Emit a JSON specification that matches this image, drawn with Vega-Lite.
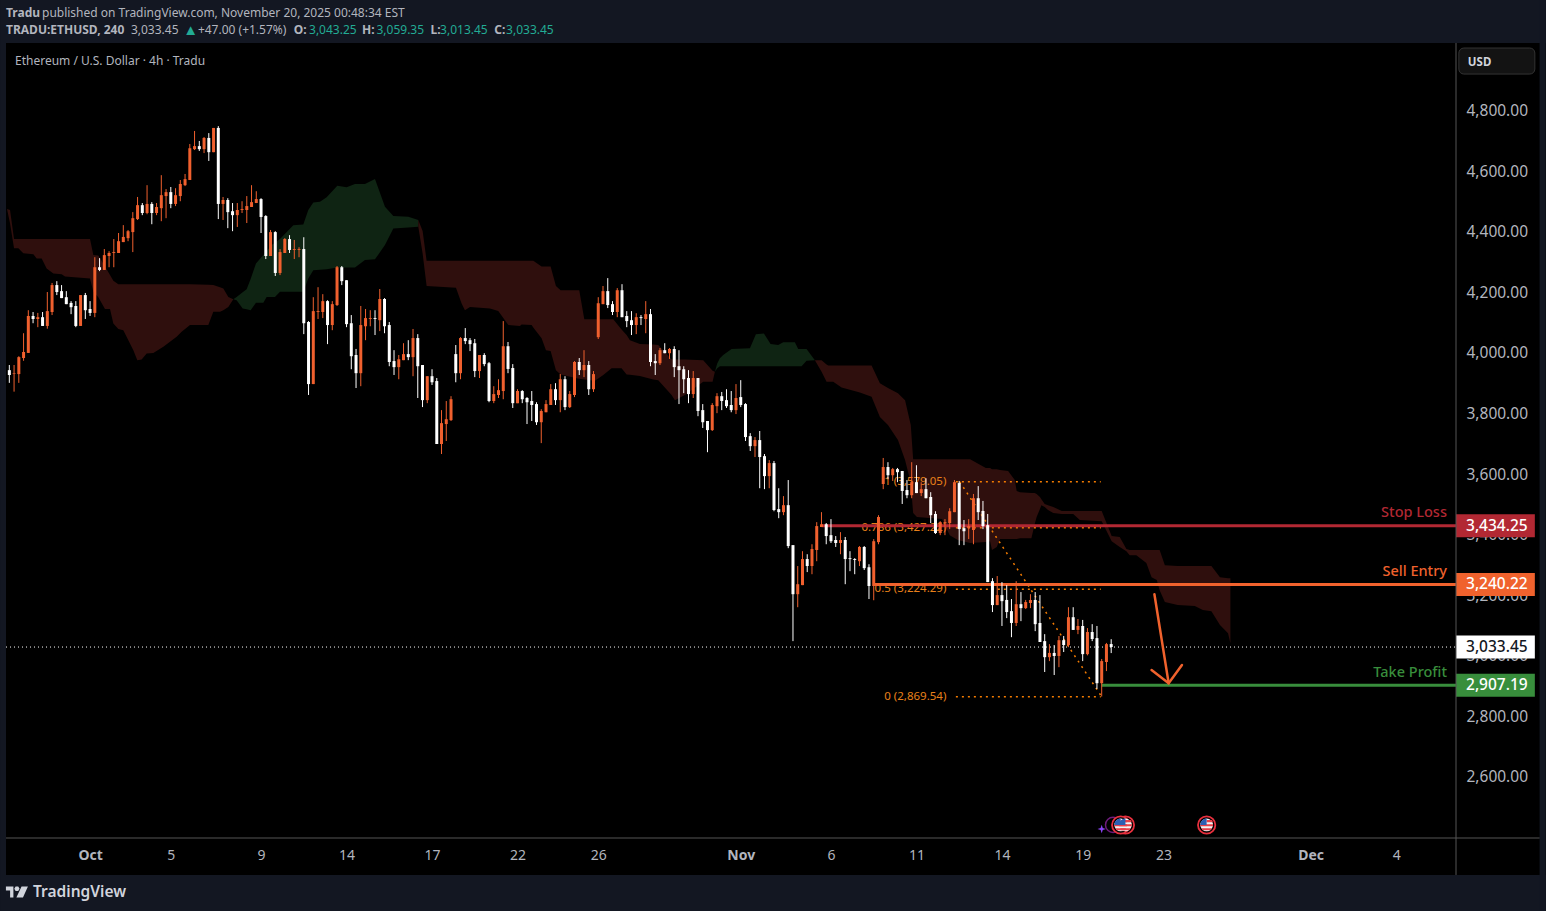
{
"$schema":"https://vega.github.io/schema/vega-lite/v6.json",
"autosize":{"type":"none"},
"padding":{"left":6,"top":43,"right":90,"bottom":73},
"width":1450,
"height":795,
"background":"#000000",
"config":{"font":"Noto Sans","view":{"stroke":null,"fill":"#000000"}},
"datasets":{
"candles":[
{"i":0,"o":3948,"h":3965,"l":3906,"c":3932},{"i":1,"o":3936,"h":3965,"l":3877,"c":3938},{"i":2,"o":3935,"h":3994,"l":3906,"c":3991},{"i":3,"o":3988,"h":4070,"l":3979,"c":4008},{"i":4,"o":4005,"h":4146,"l":4005,"c":4127},{"i":5,"o":4127,"h":4140,"l":4103,"c":4117},{"i":6,"o":4117,"h":4137,"l":4090,"c":4123},{"i":7,"o":4123,"h":4140,"l":4094,"c":4094},{"i":8,"o":4094,"h":4206,"l":4085,"c":4143},{"i":9,"o":4140,"h":4236,"l":4130,"c":4229},
{"i":10,"o":4229,"h":4242,"l":4196,"c":4206},{"i":11,"o":4209,"h":4229,"l":4186,"c":4186},{"i":12,"o":4189,"h":4209,"l":4166,"c":4166},{"i":13,"o":4170,"h":4176,"l":4133,"c":4156},{"i":14,"o":4160,"h":4176,"l":4090,"c":4094},{"i":15,"o":4094,"h":4196,"l":4094,"c":4196},{"i":16,"o":4196,"h":4203,"l":4117,"c":4146},{"i":17,"o":4150,"h":4176,"l":4127,"c":4137},{"i":18,"o":4137,"h":4321,"l":4123,"c":4288},{"i":19,"o":4288,"h":4318,"l":4275,"c":4279},
{"i":20,"o":4279,"h":4348,"l":4279,"c":4328},{"i":21,"o":4325,"h":4341,"l":4288,"c":4335},{"i":22,"o":4335,"h":4381,"l":4288,"c":4338},{"i":23,"o":4335,"h":4401,"l":4335,"c":4374},{"i":24,"o":4371,"h":4427,"l":4371,"c":4388},{"i":25,"o":4384,"h":4411,"l":4374,"c":4407},{"i":26,"o":4404,"h":4470,"l":4338,"c":4450},{"i":27,"o":4447,"h":4520,"l":4444,"c":4493},{"i":28,"o":4493,"h":4500,"l":4460,"c":4467},{"i":29,"o":4467,"h":4559,"l":4463,"c":4497},
{"i":30,"o":4497,"h":4503,"l":4430,"c":4467},{"i":31,"o":4467,"h":4500,"l":4460,"c":4487},{"i":32,"o":4483,"h":4592,"l":4440,"c":4526},{"i":33,"o":4523,"h":4546,"l":4450,"c":4536},{"i":34,"o":4536,"h":4553,"l":4483,"c":4497},{"i":35,"o":4497,"h":4549,"l":4490,"c":4526},{"i":36,"o":4523,"h":4576,"l":4506,"c":4563},{"i":37,"o":4559,"h":4596,"l":4556,"c":4579},{"i":38,"o":4576,"h":4695,"l":4576,"c":4681},{"i":39,"o":4678,"h":4738,"l":4675,"c":4688},
{"i":40,"o":4688,"h":4705,"l":4672,"c":4678},{"i":41,"o":4678,"h":4718,"l":4665,"c":4715},{"i":42,"o":4715,"h":4731,"l":4639,"c":4668},{"i":43,"o":4668,"h":4748,"l":4668,"c":4748},{"i":44,"o":4748,"h":4754,"l":4447,"c":4497},{"i":45,"o":4497,"h":4520,"l":4444,"c":4510},{"i":46,"o":4510,"h":4516,"l":4417,"c":4470},{"i":47,"o":4473,"h":4500,"l":4407,"c":4460},{"i":48,"o":4460,"h":4500,"l":4421,"c":4477},{"i":49,"o":4477,"h":4506,"l":4467,"c":4480},
{"i":50,"o":4477,"h":4523,"l":4434,"c":4490},{"i":51,"o":4487,"h":4559,"l":4487,"c":4503},{"i":52,"o":4500,"h":4539,"l":4500,"c":4513},{"i":53,"o":4513,"h":4516,"l":4401,"c":4454},{"i":54,"o":4457,"h":4460,"l":4315,"c":4325},{"i":55,"o":4325,"h":4411,"l":4325,"c":4404},{"i":56,"o":4404,"h":4407,"l":4259,"c":4269},{"i":57,"o":4269,"h":4348,"l":4262,"c":4338},{"i":58,"o":4335,"h":4384,"l":4335,"c":4381},{"i":59,"o":4381,"h":4394,"l":4335,"c":4345},
{"i":60,"o":4345,"h":4378,"l":4315,"c":4348},{"i":61,"o":4345,"h":4354,"l":4321,"c":4348},{"i":62,"o":4348,"h":4387,"l":4067,"c":4103},{"i":63,"o":4107,"h":4110,"l":3866,"c":3902},{"i":64,"o":3902,"h":4189,"l":3902,"c":4143},{"i":65,"o":4140,"h":4222,"l":4117,"c":4143},{"i":66,"o":4140,"h":4199,"l":4120,"c":4176},{"i":67,"o":4176,"h":4179,"l":4034,"c":4097},{"i":68,"o":4097,"h":4176,"l":4080,"c":4166},{"i":69,"o":4163,"h":4292,"l":4160,"c":4288},
{"i":70,"o":4288,"h":4292,"l":4229,"c":4242},{"i":71,"o":4245,"h":4245,"l":4090,"c":4100},{"i":72,"o":4103,"h":4130,"l":3951,"c":3994},{"i":73,"o":3998,"h":4018,"l":3889,"c":3938},{"i":74,"o":3938,"h":4160,"l":3895,"c":4097},{"i":75,"o":4093,"h":4150,"l":4047,"c":4120},{"i":76,"o":4117,"h":4146,"l":4093,"c":4120},{"i":77,"o":4120,"h":4146,"l":4064,"c":4117},{"i":78,"o":4113,"h":4216,"l":4077,"c":4183},{"i":79,"o":4183,"h":4186,"l":4070,"c":4093},
{"i":80,"o":4097,"h":4107,"l":3961,"c":3975},{"i":81,"o":3978,"h":4014,"l":3932,"c":3958},{"i":82,"o":3958,"h":3998,"l":3918,"c":3984},{"i":83,"o":3981,"h":4037,"l":3981,"c":4001},{"i":84,"o":4001,"h":4047,"l":3981,"c":3991},{"i":85,"o":3991,"h":4084,"l":3928,"c":4054},{"i":86,"o":4054,"h":4067,"l":3856,"c":3961},{"i":87,"o":3965,"h":3965,"l":3826,"c":3849},{"i":88,"o":3849,"h":3928,"l":3839,"c":3928},{"i":89,"o":3928,"h":3951,"l":3899,"c":3908},
{"i":90,"o":3912,"h":3922,"l":3704,"c":3704},{"i":91,"o":3704,"h":3816,"l":3671,"c":3773},{"i":92,"o":3770,"h":3846,"l":3714,"c":3786},{"i":93,"o":3783,"h":3862,"l":3780,"c":3852},{"i":94,"o":4001,"h":4031,"l":3908,"c":3938},{"i":95,"o":3938,"h":4057,"l":3918,"c":4054},{"i":96,"o":4054,"h":4087,"l":4034,"c":4044},{"i":97,"o":4047,"h":4054,"l":4011,"c":4034},{"i":98,"o":4037,"h":4051,"l":3925,"c":3945},{"i":99,"o":3945,"h":3998,"l":3922,"c":3998},
{"i":100,"o":3998,"h":4004,"l":3961,"c":3968},{"i":101,"o":3971,"h":3975,"l":3842,"c":3846},{"i":102,"o":3846,"h":3895,"l":3839,"c":3869},{"i":103,"o":3866,"h":3918,"l":3856,"c":3882},{"i":104,"o":3879,"h":4110,"l":3852,"c":4027},{"i":105,"o":4027,"h":4041,"l":3938,"c":3952},{"i":106,"o":3955,"h":3968,"l":3823,"c":3839},{"i":107,"o":3839,"h":3885,"l":3839,"c":3879},{"i":108,"o":3879,"h":3882,"l":3839,"c":3852},{"i":109,"o":3856,"h":3859,"l":3770,"c":3842},
{"i":110,"o":3846,"h":3879,"l":3780,"c":3833},{"i":111,"o":3836,"h":3842,"l":3767,"c":3776},{"i":112,"o":3776,"h":3819,"l":3707,"c":3813},{"i":113,"o":3809,"h":3849,"l":3809,"c":3836},{"i":114,"o":3833,"h":3902,"l":3833,"c":3885},{"i":115,"o":3885,"h":3905,"l":3833,"c":3849},{"i":116,"o":3849,"h":3935,"l":3809,"c":3918},{"i":117,"o":3918,"h":3928,"l":3816,"c":3826},{"i":118,"o":3826,"h":3879,"l":3823,"c":3869},{"i":119,"o":3866,"h":3978,"l":3859,"c":3975},
{"i":120,"o":3975,"h":3988,"l":3932,"c":3948},{"i":121,"o":3948,"h":4014,"l":3925,"c":3965},{"i":122,"o":3965,"h":3978,"l":3866,"c":3885},{"i":123,"o":3885,"h":3945,"l":3876,"c":3935},{"i":124,"o":4057,"h":4189,"l":4051,"c":4169},{"i":125,"o":4166,"h":4226,"l":4166,"c":4209},{"i":126,"o":4209,"h":4252,"l":4153,"c":4163},{"i":127,"o":4166,"h":4176,"l":4130,"c":4140},{"i":128,"o":4140,"h":4219,"l":4123,"c":4212},{"i":129,"o":4212,"h":4232,"l":4123,"c":4123},
{"i":130,"o":4127,"h":4143,"l":4090,"c":4110},{"i":131,"o":4113,"h":4143,"l":4064,"c":4097},{"i":132,"o":4097,"h":4136,"l":4067,"c":4123},{"i":133,"o":4123,"h":4130,"l":4097,"c":4120},{"i":134,"o":4117,"h":4176,"l":4070,"c":4133},{"i":135,"o":4133,"h":4150,"l":3961,"c":3975},{"i":136,"o":3978,"h":4001,"l":3932,"c":3971},{"i":137,"o":3971,"h":4021,"l":3965,"c":4014},{"i":138,"o":4014,"h":4037,"l":4004,"c":4004},{"i":139,"o":4004,"h":4021,"l":3985,"c":4018},
{"i":140,"o":4018,"h":4027,"l":3925,"c":3958},{"i":141,"o":3961,"h":4014,"l":3836,"c":3948},{"i":142,"o":3951,"h":3961,"l":3872,"c":3918},{"i":143,"o":3922,"h":3948,"l":3839,"c":3869},{"i":144,"o":3869,"h":3945,"l":3856,"c":3922},{"i":145,"o":3922,"h":3922,"l":3796,"c":3813},{"i":146,"o":3816,"h":3836,"l":3757,"c":3776},{"i":147,"o":3780,"h":3780,"l":3677,"c":3750},{"i":148,"o":3750,"h":3839,"l":3747,"c":3833},{"i":149,"o":3829,"h":3872,"l":3806,"c":3862},
{"i":150,"o":3862,"h":3876,"l":3816,"c":3846},{"i":151,"o":3849,"h":3885,"l":3823,"c":3829},{"i":152,"o":3833,"h":3879,"l":3809,"c":3816},{"i":153,"o":3816,"h":3902,"l":3803,"c":3856},{"i":154,"o":3859,"h":3915,"l":3826,"c":3833},{"i":155,"o":3836,"h":3839,"l":3714,"c":3727},{"i":156,"o":3730,"h":3740,"l":3681,"c":3697},{"i":157,"o":3697,"h":3727,"l":3661,"c":3717},{"i":158,"o":3717,"h":3747,"l":3558,"c":3661},{"i":159,"o":3664,"h":3671,"l":3555,"c":3598},
{"i":160,"o":3598,"h":3651,"l":3558,"c":3641},{"i":161,"o":3641,"h":3648,"l":3482,"c":3486},{"i":162,"o":3489,"h":3558,"l":3459,"c":3479},{"i":163,"o":3479,"h":3532,"l":3469,"c":3502},{"i":164,"o":3502,"h":3585,"l":3360,"c":3367},{"i":165,"o":3370,"h":3370,"l":3053,"c":3208},{"i":166,"o":3208,"h":3301,"l":3165,"c":3241},{"i":167,"o":3238,"h":3350,"l":3238,"c":3324},{"i":168,"o":3324,"h":3340,"l":3281,"c":3301},{"i":169,"o":3301,"h":3373,"l":3274,"c":3357},
{"i":170,"o":3354,"h":3446,"l":3317,"c":3433},{"i":171,"o":3430,"h":3479,"l":3430,"c":3439},{"i":172,"o":3439,"h":3443,"l":3373,"c":3400},{"i":173,"o":3403,"h":3456,"l":3377,"c":3383},{"i":174,"o":3387,"h":3400,"l":3364,"c":3377},{"i":175,"o":3377,"h":3413,"l":3340,"c":3387},{"i":176,"o":3387,"h":3397,"l":3241,"c":3324},{"i":177,"o":3327,"h":3350,"l":3284,"c":3324},{"i":178,"o":3324,"h":3327,"l":3274,"c":3321},{"i":179,"o":3317,"h":3367,"l":3301,"c":3364},
{"i":180,"o":3364,"h":3367,"l":3288,"c":3294},{"i":181,"o":3297,"h":3307,"l":3192,"c":3235},{"i":182,"o":3235,"h":3390,"l":3188,"c":3383},{"i":183,"o":3380,"h":3469,"l":3373,"c":3463},{"i":184,"o":3572,"h":3658,"l":3555,"c":3628},{"i":185,"o":3628,"h":3644,"l":3588,"c":3601},{"i":186,"o":3601,"h":3625,"l":3582,"c":3621},{"i":187,"o":3621,"h":3625,"l":3578,"c":3611},{"i":188,"o":3615,"h":3615,"l":3506,"c":3549},{"i":189,"o":3552,"h":3585,"l":3525,"c":3535},
{"i":190,"o":3535,"h":3644,"l":3525,"c":3578},{"i":191,"o":3578,"h":3634,"l":3542,"c":3542},{"i":192,"o":3542,"h":3578,"l":3532,"c":3555},{"i":193,"o":3555,"h":3591,"l":3525,"c":3525},{"i":194,"o":3529,"h":3545,"l":3443,"c":3469},{"i":195,"o":3473,"h":3482,"l":3407,"c":3410},{"i":196,"o":3410,"h":3449,"l":3403,"c":3446},{"i":197,"o":3442,"h":3456,"l":3403,"c":3446},{"i":198,"o":3443,"h":3492,"l":3423,"c":3482},{"i":199,"o":3479,"h":3585,"l":3479,"c":3578},
{"i":200,"o":3575,"h":3582,"l":3370,"c":3423},{"i":201,"o":3426,"h":3453,"l":3370,"c":3416},{"i":202,"o":3426,"h":3456,"l":3390,"c":3433},{"i":203,"o":3420,"h":3539,"l":3373,"c":3525},{"i":204,"o":3525,"h":3565,"l":3453,"c":3479},{"i":205,"o":3483,"h":3516,"l":3423,"c":3433},{"i":206,"o":3436,"h":3473,"l":3248,"c":3248},{"i":207,"o":3251,"h":3261,"l":3149,"c":3172},{"i":208,"o":3172,"h":3268,"l":3172,"c":3205},{"i":209,"o":3205,"h":3248,"l":3103,"c":3185},
{"i":210,"o":3189,"h":3238,"l":3129,"c":3149},{"i":211,"o":3152,"h":3192,"l":3066,"c":3113},{"i":212,"o":3113,"h":3251,"l":3103,"c":3175},{"i":213,"o":3175,"h":3215,"l":3119,"c":3162},{"i":214,"o":3162,"h":3189,"l":3159,"c":3182},{"i":215,"o":3179,"h":3208,"l":3162,"c":3189},{"i":216,"o":3189,"h":3215,"l":3086,"c":3109},{"i":217,"o":3113,"h":3205,"l":3050,"c":3050},{"i":218,"o":3053,"h":3076,"l":2951,"c":3000},{"i":219,"o":3000,"h":3043,"l":2987,"c":3014},
{"i":220,"o":3014,"h":3040,"l":2941,"c":3004},{"i":221,"o":3004,"h":3070,"l":2967,"c":3056},{"i":222,"o":3056,"h":3070,"l":3017,"c":3040},{"i":223,"o":3040,"h":3165,"l":3033,"c":3132},{"i":224,"o":3132,"h":3165,"l":3090,"c":3090},{"i":225,"o":3090,"h":3126,"l":3076,"c":3103},{"i":226,"o":3103,"h":3123,"l":2987,"c":3010},{"i":227,"o":3010,"h":3096,"l":3006,"c":3083},{"i":228,"o":3083,"h":3109,"l":3053,"c":3060},{"i":229,"o":3063,"h":3103,"l":2895,"c":2914},
{"i":230,"o":2914,"h":2994,"l":2870,"c":2987},{"i":231,"o":2984,"h":3047,"l":2954,"c":3043},{"i":232,"o":3043.25,"h":3059.35,"l":3013.45,"c":3033.45}
],
"cloud":[
{"seg":"r1","kind":"bear","i":-0.49,"a":4480,"b":4480},{"seg":"r1","kind":"bear","i":0.15,"a":4477,"b":4433},{"seg":"r1","kind":"bear","i":0.99,"a":4381,"b":4351},{"seg":"r1","kind":"bear","i":1.9,"a":4381,"b":4351},{"seg":"r1","kind":"bear","i":2.95,"a":4381,"b":4334},{"seg":"r1","kind":"bear","i":5.06,"a":4381,"b":4331},{"seg":"r1","kind":"bear","i":5.76,"a":4381,"b":4317},{"seg":"r1","kind":"bear","i":6.81,"a":4381,"b":4317},{"seg":"r1","kind":"bear","i":7.86,"a":4381,"b":4284},{"seg":"r1","kind":"bear","i":9.27,"a":4381,"b":4267},{"seg":"r1","kind":"bear","i":11.02,"a":4381,"b":4265},{"seg":"r1","kind":"bear","i":11.72,"a":4381,"b":4257},{"seg":"r1","kind":"bear","i":16.99,"a":4381,"b":4251},{"seg":"r1","kind":"bear","i":17.69,"a":4328,"b":4207},{"seg":"r1","kind":"bear","i":18.74,"a":4327,"b":4189},{"seg":"r1","kind":"bear","i":20.14,"a":4290,"b":4150},{"seg":"r1","kind":"bear","i":21.2,"a":4262,"b":4150},{"seg":"r1","kind":"bear","i":21.9,"a":4243,"b":4102},{"seg":"r1","kind":"bear","i":22.95,"a":4232,"b":4084},{"seg":"r1","kind":"bear","i":24,"a":4232,"b":4080},{"seg":"r1","kind":"bear","i":25.06,"a":4232,"b":4047},{"seg":"r1","kind":"bear","i":26.11,"a":4232,"b":4014},{"seg":"r1","kind":"bear","i":26.95,"a":4232,"b":3981},{"seg":"r1","kind":"bear","i":27.86,"a":4232,"b":3983},{"seg":"r1","kind":"bear","i":28.92,"a":4232,"b":4003},{"seg":"r1","kind":"bear","i":30.32,"a":4232,"b":4005},{"seg":"r1","kind":"bear","i":32.43,"a":4232,"b":4025},{"seg":"r1","kind":"bear","i":35.23,"a":4232,"b":4058},{"seg":"r1","kind":"bear","i":36.28,"a":4232,"b":4075},{"seg":"r1","kind":"bear","i":38.04,"a":4232,"b":4097},{"seg":"r1","kind":"bear","i":41.9,"a":4230,"b":4097},{"seg":"r1","kind":"bear","i":42.95,"a":4229,"b":4141},{"seg":"r1","kind":"bear","i":44.36,"a":4222,"b":4141},{"seg":"r1","kind":"bear","i":45.06,"a":4218,"b":4146},{"seg":"r1","kind":"bear","i":46.11,"a":4190,"b":4157},{"seg":"r1","kind":"bear","i":47.16,"a":4182,"b":4182},
{"seg":"g1","kind":"bull","i":47.16,"a":4182,"b":4182},{"seg":"g1","kind":"bull","i":47.86,"a":4190,"b":4179},{"seg":"g1","kind":"bull","i":49.13,"a":4205,"b":4152},{"seg":"g1","kind":"bull","i":49.97,"a":4215,"b":4149},{"seg":"g1","kind":"bull","i":50.81,"a":4249,"b":4146},{"seg":"g1","kind":"bull","i":51.93,"a":4300,"b":4171},{"seg":"g1","kind":"bull","i":53.48,"a":4328,"b":4171},{"seg":"g1","kind":"bull","i":54.18,"a":4341,"b":4190},{"seg":"g1","kind":"bull","i":55.23,"a":4361,"b":4190},{"seg":"g1","kind":"bull","i":55.93,"a":4369,"b":4190},{"seg":"g1","kind":"bull","i":56.99,"a":4381,"b":4207},{"seg":"g1","kind":"bull","i":59.79,"a":4427,"b":4207},{"seg":"g1","kind":"bull","i":61.9,"a":4429,"b":4207},{"seg":"g1","kind":"bull","i":62.95,"a":4477,"b":4251},{"seg":"g1","kind":"bull","i":64,"a":4502,"b":4278},{"seg":"g1","kind":"bull","i":65.41,"a":4504,"b":4280},{"seg":"g1","kind":"bull","i":66.81,"a":4519,"b":4281},{"seg":"g1","kind":"bull","i":69.06,"a":4557,"b":4287},{"seg":"g1","kind":"bull","i":71.02,"a":4552,"b":4287},{"seg":"g1","kind":"bull","i":72.78,"a":4563,"b":4287},{"seg":"g1","kind":"bull","i":74.88,"a":4563,"b":4312},{"seg":"g1","kind":"bull","i":76.99,"a":4579,"b":4314},{"seg":"g1","kind":"bull","i":79.09,"a":4488,"b":4361},{"seg":"g1","kind":"bull","i":80.85,"a":4457,"b":4416},{"seg":"g1","kind":"bull","i":84,"a":4455,"b":4419},{"seg":"g1","kind":"bull","i":86.11,"a":4444,"b":4422},
{"seg":"r2","kind":"bear","i":86.11,"a":4444,"b":4422},{"seg":"r2","kind":"bear","i":87.02,"a":4408,"b":4333},{"seg":"r2","kind":"bear","i":87.86,"a":4309,"b":4226},{"seg":"r2","kind":"bear","i":94.04,"a":4309,"b":4220},{"seg":"r2","kind":"bear","i":95.23,"a":4309,"b":4168},{"seg":"r2","kind":"bear","i":95.93,"a":4309,"b":4146},{"seg":"r2","kind":"bear","i":96.99,"a":4309,"b":4157},{"seg":"r2","kind":"bear","i":101.2,"a":4309,"b":4152},{"seg":"r2","kind":"bear","i":102.95,"a":4309,"b":4143},{"seg":"r2","kind":"bear","i":105.06,"a":4309,"b":4097},{"seg":"r2","kind":"bear","i":107.51,"a":4309,"b":4094},{"seg":"r2","kind":"bear","i":107.86,"a":4309,"b":4099},{"seg":"r2","kind":"bear","i":109.97,"a":4309,"b":4097},{"seg":"r2","kind":"bear","i":110.32,"a":4309,"b":4089},{"seg":"r2","kind":"bear","i":112.07,"a":4290,"b":4053},{"seg":"r2","kind":"bear","i":112.99,"a":4290,"b":4014},{"seg":"r2","kind":"bear","i":113.97,"a":4290,"b":4011},{"seg":"r2","kind":"bear","i":115.09,"a":4226,"b":3948},{"seg":"r2","kind":"bear","i":116.07,"a":4212,"b":3934},{"seg":"r2","kind":"bear","i":119.44,"a":4212,"b":3921},{"seg":"r2","kind":"bear","i":120,"a":4212,"b":3920},{"seg":"r2","kind":"bear","i":121.06,"a":4116,"b":3917},{"seg":"r2","kind":"bear","i":123.3,"a":4116,"b":3913},{"seg":"r2","kind":"bear","i":125.06,"a":4116,"b":3932},{"seg":"r2","kind":"bear","i":126.81,"a":4116,"b":3954},{"seg":"r2","kind":"bear","i":127.16,"a":4116,"b":3954},{"seg":"r2","kind":"bear","i":128.56,"a":4089,"b":3954},{"seg":"r2","kind":"bear","i":128.91,"a":4082,"b":3954},{"seg":"r2","kind":"bear","i":129.97,"a":4064,"b":3934},{"seg":"r2","kind":"bear","i":130.67,"a":4047,"b":3933},{"seg":"r2","kind":"bear","i":132.77,"a":4034,"b":3929},{"seg":"r2","kind":"bear","i":135.58,"a":4033,"b":3917},{"seg":"r2","kind":"bear","i":136.63,"a":4031,"b":3915},{"seg":"r2","kind":"bear","i":139.44,"a":3983,"b":3866},{"seg":"r2","kind":"bear","i":140.14,"a":3983,"b":3849},{"seg":"r2","kind":"bear","i":142.24,"a":3983,"b":3866},{"seg":"r2","kind":"bear","i":146.1,"a":3981,"b":3910},{"seg":"r2","kind":"bear","i":148.07,"a":3946,"b":3910},{"seg":"r2","kind":"bear","i":148.56,"a":3943,"b":3943},
{"seg":"g2","kind":"bull","i":148.56,"a":3943,"b":3943},{"seg":"g2","kind":"bull","i":149.05,"a":3970,"b":3954},{"seg":"g2","kind":"bull","i":149.61,"a":3987,"b":3961},{"seg":"g2","kind":"bull","i":150.31,"a":3998,"b":3961},{"seg":"g2","kind":"bull","i":152.07,"a":4018,"b":3961},{"seg":"g2","kind":"bull","i":155.93,"a":4020,"b":3961},{"seg":"g2","kind":"bull","i":157.19,"a":4067,"b":3961},{"seg":"g2","kind":"bull","i":158.88,"a":4069,"b":3961},{"seg":"g2","kind":"bull","i":160.28,"a":4034,"b":3961},{"seg":"g2","kind":"bull","i":161.89,"a":4031,"b":3961},{"seg":"g2","kind":"bull","i":162.95,"a":4040,"b":3961},{"seg":"g2","kind":"bull","i":165.4,"a":4040,"b":3961},{"seg":"g2","kind":"bull","i":166.1,"a":4018,"b":3961},{"seg":"g2","kind":"bull","i":166.81,"a":4018,"b":3961},{"seg":"g2","kind":"bull","i":167.86,"a":4018,"b":3979},{"seg":"g2","kind":"bull","i":169.61,"a":3981,"b":3981},
{"seg":"r3","kind":"bear","i":169.61,"a":3981,"b":3981},{"seg":"r3","kind":"bear","i":171.02,"a":3981,"b":3943},{"seg":"r3","kind":"bear","i":172.07,"a":3967,"b":3910},{"seg":"r3","kind":"bear","i":172.42,"a":3963,"b":3910},{"seg":"r3","kind":"bear","i":173.47,"a":3963,"b":3910},{"seg":"r3","kind":"bear","i":175.23,"a":3963,"b":3891},{"seg":"r3","kind":"bear","i":179.09,"a":3963,"b":3874},{"seg":"r3","kind":"bear","i":181.55,"a":3963,"b":3860},{"seg":"r3","kind":"bear","i":183.3,"a":3905,"b":3793},{"seg":"r3","kind":"bear","i":185,"a":3889,"b":3767},{"seg":"r3","kind":"bear","i":187.1,"a":3872,"b":3717},{"seg":"r3","kind":"bear","i":188.6,"a":3849,"b":3651},{"seg":"r3","kind":"bear","i":189.8,"a":3767,"b":3575},{"seg":"r3","kind":"bear","i":190.3,"a":3654,"b":3476},{"seg":"r3","kind":"bear","i":191.1,"a":3654,"b":3463},{"seg":"r3","kind":"bear","i":196.4,"a":3654,"b":3456},{"seg":"r3","kind":"bear","i":198,"a":3654,"b":3403},{"seg":"r3","kind":"bear","i":199.7,"a":3654,"b":3387},{"seg":"r3","kind":"bear","i":202.3,"a":3654,"b":3377},{"seg":"r3","kind":"bear","i":205.6,"a":3625,"b":3380},{"seg":"r3","kind":"bear","i":206.5,"a":3625,"b":3383},{"seg":"r3","kind":"bear","i":206.9,"a":3621,"b":3354},{"seg":"r3","kind":"bear","i":207.9,"a":3621,"b":3364},{"seg":"r3","kind":"bear","i":208.6,"a":3618,"b":3390},{"seg":"r3","kind":"bear","i":210.3,"a":3615,"b":3390},{"seg":"r3","kind":"bear","i":211.7,"a":3585,"b":3390},{"seg":"r3","kind":"bear","i":212.1,"a":3549,"b":3390},{"seg":"r3","kind":"bear","i":212.8,"a":3545,"b":3393},{"seg":"r3","kind":"bear","i":215.2,"a":3542,"b":3393},{"seg":"r3","kind":"bear","i":215.9,"a":3542,"b":3440},{"seg":"r3","kind":"bear","i":216.3,"a":3539,"b":3463},{"seg":"r3","kind":"bear","i":217,"a":3529,"b":3489},{"seg":"r3","kind":"bear","i":217.3,"a":3522,"b":3502},{"seg":"r3","kind":"bear","i":218,"a":3506,"b":3496},{"seg":"r3","kind":"bear","i":218.7,"a":3502,"b":3486},{"seg":"r3","kind":"bear","i":219.8,"a":3496,"b":3476},{"seg":"r3","kind":"bear","i":221.6,"a":3483,"b":3473},{"seg":"r3","kind":"bear","i":224,"a":3483,"b":3473},{"seg":"r3","kind":"bear","i":225.4,"a":3483,"b":3453},{"seg":"r3","kind":"bear","i":230,"a":3483,"b":3449},{"seg":"r3","kind":"bear","i":232.1,"a":3400,"b":3383},{"seg":"r3","kind":"bear","i":233.8,"a":3397,"b":3364},{"seg":"r3","kind":"bear","i":235.2,"a":3357,"b":3350},{"seg":"r3","kind":"bear","i":235.9,"a":3354,"b":3337},{"seg":"r3","kind":"bear","i":237.3,"a":3354,"b":3337},{"seg":"r3","kind":"bear","i":239.4,"a":3354,"b":3311},{"seg":"r3","kind":"bear","i":240.5,"a":3354,"b":3264},{"seg":"r3","kind":"bear","i":241.6,"a":3354,"b":3255},{"seg":"r3","kind":"bear","i":242.2,"a":3354,"b":3221},{"seg":"r3","kind":"bear","i":243.3,"a":3304,"b":3182},{"seg":"r3","kind":"bear","i":246,"a":3301,"b":3172},{"seg":"r3","kind":"bear","i":249.6,"a":3301,"b":3169},{"seg":"r3","kind":"bear","i":251.3,"a":3301,"b":3156},{"seg":"r3","kind":"bear","i":253.1,"a":3301,"b":3152},{"seg":"r3","kind":"bear","i":254.9,"a":3264,"b":3106},{"seg":"r3","kind":"bear","i":256.6,"a":3261,"b":3079},{"seg":"r3","kind":"bear","i":257.1,"a":3261,"b":3046}
],
"levels":[
{"kind":"stop","name":"Stop Loss","price":3434.25,"start":171,"py":3476},
{"kind":"sell","name":"Sell Entry","price":3240.22,"start":182,"py":3281},
{"kind":"tp","name":"Take Profit","price":2907.19,"start":230,"py":2948}
],
"tags":[
{"kind":"stop","price":3434.25},
{"kind":"sell","price":3240.22},
{"kind":"last","price":3033.45},
{"kind":"tp","price":2907.19}
],
"fib":[
{"price":3579.05,"label":"1 (3,579.05)"},
{"price":3427.22,"label":"0.786 (3,427.22)"},
{"price":3224.29,"label":"0.5 (3,224.29)"},
{"price":2869.54,"label":"0 (2,869.54)"}
],
"arrow":[
{"part":"shaft","i":241.1,"p":3207.6},{"part":"shaft","i":244.1,"p":2913.7},
{"part":"head","i":240.5,"p":2957.6},{"part":"head","i":244.1,"p":2913.7},{"part":"head","i":246.9,"p":2974}
],
"events":[{"i":235},{"i":234},{"i":252.1}],
"head_bold":[
{"i":-0.7,"p":5129,"t":"Tradu"},
{"i":-0.7,"p":5073,"t":"TRADU:ETHUSD, 240"},
{"i":59.9,"p":5073,"t":"O:"},
{"i":74.25,"p":5073,"t":"H:"},
{"i":88.7,"p":5073,"t":"L:"},
{"i":102.1,"p":5073,"t":"C:"}
],
"head_plain":[
{"i":6.88,"p":5129,"t":"published on TradingView.com, November 20, 2025 00:48:34 EST"},
{"i":25.6,"p":5073,"t":"3,033.45"},
{"i":39.7,"p":5073,"t":"+47.00 (+1.57%)"},
{"i":1.2,"p":4970,"t":"Ethereum / U.S. Dollar · 4h · Tradu"}
],
"head_teal":[
{"i":63.1,"p":5073,"t":"3,043.25"},
{"i":77.3,"p":5073,"t":"3,059.35"},
{"i":90.7,"p":5073,"t":"3,013.45"},
{"i":104.6,"p":5073,"t":"3,033.45"}
]
},
"encoding":{
"x":{"type":"quantitative","title":null,"scale":{"domain":[-0.7,304.6],"nice":false,"zero":false,"padding":0},
"axis":{"orient":"bottom","domain":false,"ticks":false,"grid":false,"title":null,"values":[17,34,53,71,89,107,124,154,173,191,209,226,243,274,292],
"labelExpr":"{'17':'Oct','34':'5','53':'9','71':'14','89':'17','107':'22','124':'26','154':'Nov','173':'6','191':'11','209':'14','226':'19','243':'23','274':'Dec','292':'4'}[datum.value]",
"labelFontWeight":{"condition":{"test":"datum.value==17||datum.value==154||datum.value==274","value":"bold"},"value":"normal"},
"labelColor":"#b2b5be","labelFontSize":14,"labelPadding":10,"labelFlush":false,"labelOverlap":false}},
"y":{"type":"quantitative","title":null,"scale":{"domain":[2402.7,5028.6],"nice":false,"zero":false},
"axis":{"orient":"right","domain":false,"ticks":false,"grid":false,"title":null,"values":[2600,2800,3000,3200,3400,3600,3800,4000,4200,4400,4600,4800],"format":",.2f",
"labelColor":"#b2b5be","labelFontSize":15.5,"labelPadding":10,"labelOffset":-1.5,"labelFlush":false,"labelOverlap":false}}
},
"layer":[
{"data":{"values":[{"k":1}]},"mark":{"type":"rect","color":"#131722"},"encoding":{"x":{"datum":-1.96},"x2":{"datum":323.5},"y":{"datum":5170.6},"y2":{"datum":5028.6}}},
{"data":{"values":[{"k":1}]},"mark":{"type":"rect","color":"#131722"},"encoding":{"x":{"datum":-1.96},"x2":{"datum":323.5},"y":{"datum":2280.6},"y2":{"datum":2161.6}}},
{"data":{"values":[{"k":1}]},"mark":{"type":"rect","color":"#131722"},"encoding":{"x":{"datum":-1.96},"x2":{"datum":-0.7},"y":{"datum":5170.6},"y2":{"datum":2161.6}}},
{"data":{"values":[{"k":1}]},"mark":{"type":"rect","color":"#131722"},"encoding":{"x":{"datum":322.2},"x2":{"datum":323.5},"y":{"datum":5170.6},"y2":{"datum":2161.6}}},
{"data":{"values":[{"k":1}]},"mark":{"type":"rect","fill":"#131313","stroke":"#333333","cornerRadius":5},"encoding":{"x":{"datum":305.2},"x2":{"datum":321.2},"y":{"datum":5012},"y2":{"datum":4926}}},
{"data":{"values":[{"t":"USD"}]},"mark":{"type":"text","align":"left","baseline":"middle","fontSize":11.5,"fontWeight":"bold","color":"#d1d4dc"},"encoding":{"x":{"datum":307.1},"y":{"datum":4963},"text":{"field":"t"}}},
{"data":{"name":"cloud"},"mark":{"type":"area","interpolate":"linear","line":false},"encoding":{"x":{"field":"i"},"y":{"field":"a"},"y2":{"field":"b"},"detail":{"field":"seg"},"color":{"field":"kind","type":"nominal","legend":null,"scale":{"domain":["bear","bull","stop","sell","last","tp"],"range":["#2f0f0d","#0f2413","#b22833","#f0622d","#ffffff","#388e3c"]}}}},
{"data":{"values":[{"k":1}]},"mark":{"type":"rule","color":"#ffffff","strokeDash":[1,3],"strokeWidth":1},"encoding":{"x":{"datum":-0.7},"x2":{"datum":304.6},"y":{"datum":3033.45}}},
{"data":{"name":"fib"},"mark":{"type":"rule","color":"#f57c00","strokeDash":[2,4],"strokeWidth":1.5},"encoding":{"x":{"datum":199.3},"x2":{"datum":229.8},"y":{"field":"price"}}},
{"data":{"values":[{"k":1}]},"mark":{"type":"rule","color":"#f57c00","strokeDash":[2,4.5],"strokeWidth":1.5},"encoding":{"x":{"datum":200.1},"x2":{"datum":230},"y":{"datum":3579.05},"y2":{"datum":2869.54}}},
{"data":{"name":"fib"},"mark":{"type":"text","align":"right","baseline":"middle","fontSize":11.5,"color":"#e8801a"},"encoding":{"x":{"datum":197.3},"y":{"field":"price"},"text":{"field":"label"}}},
{"data":{"name":"levels"},"mark":{"type":"rule","strokeWidth":3},"encoding":{"x":{"field":"start"},"x2":{"datum":304.6},"y":{"field":"price"},"color":{"field":"kind","type":"nominal","legend":null,"scale":{"domain":["bear","bull","stop","sell","last","tp"],"range":["#2f0f0d","#0f2413","#b22833","#f0622d","#ffffff","#388e3c"]}}}},
{"data":{"name":"tags"},"mark":{"type":"rule","strokeWidth":23},"encoding":{"x":{"datum":304.6},"x2":{"datum":321.2},"y":{"field":"price"},"color":{"field":"kind","type":"nominal","legend":null,"scale":{"domain":["bear","bull","stop","sell","last","tp"],"range":["#2f0f0d","#0f2413","#b22833","#f0622d","#ffffff","#388e3c"]}}}},
{"data":{"name":"tags"},"mark":{"type":"text","align":"center","baseline":"middle","fontSize":15.5,"fontWeight":500},"encoding":{"x":{"datum":313.2},"y":{"field":"price"},"text":{"field":"price","type":"quantitative","format":",.2f"},"color":{"condition":{"test":"datum.kind=='last'","value":"#131722"},"value":"#ffffff"}}},
{"data":{"name":"levels"},"mark":{"type":"text","align":"right","baseline":"middle","fontSize":14.5,"fontWeight":500},"encoding":{"x":{"datum":302.7},"y":{"field":"py"},"text":{"field":"name"},"color":{"field":"kind","type":"nominal","legend":null,"scale":{"domain":["bear","bull","stop","sell","last","tp"],"range":["#2f0f0d","#0f2413","#b22833","#f0622d","#ffffff","#388e3c"]}}}},
{"data":{"name":"arrow"},"mark":{"type":"line","color":"#f0622d","strokeWidth":2.5,"strokeCap":"round"},"encoding":{"x":{"field":"i"},"y":{"field":"p"},"detail":{"field":"part"}}},
{"data":{"name":"candles"},"mark":{"type":"rule","strokeWidth":1},"encoding":{"x":{"field":"i"},"y":{"field":"l"},"y2":{"field":"h"},"color":{"condition":{"test":"datum.c<datum.o","value":"#ffffff"},"value":"#f0602e"}}},
{"data":{"name":"candles"},"mark":{"type":"bar","size":3},"encoding":{"x":{"field":"i"},"y":{"field":"o"},"y2":{"field":"c"},"color":{"condition":{"test":"datum.c<datum.o","value":"#ffffff"},"value":"#f0602e"}}},
{"data":{"values":[{"k":1}]},"mark":{"type":"rule","color":"#555555","strokeWidth":1},"encoding":{"x":{"datum":304.6},"y":{"datum":5028.6},"y2":{"datum":2280.6}}},
{"data":{"values":[{"k":1}]},"mark":{"type":"rule","color":"#555555","strokeWidth":1},"encoding":{"x":{"datum":-0.7},"x2":{"datum":322.2},"y":{"datum":2402.7}}},
{"data":{"values":[{"k":1}]},"mark":{"type":"point","shape":"circle","filled":false,"color":"#9c27b0","strokeWidth":1.5,"size":230},"encoding":{"x":{"datum":232.4},"y":{"datum":2445.8}}},
{"data":{"values":[{"k":1}]},"mark":{"type":"point","filled":true,"color":"#8b44f7","opacity":1,"size":70,"shape":"M0 -1 L0.25 -0.25 L1 0 L0.25 0.25 L0 1 L-0.25 0.25 L-1 0 L-0.25 -0.25 Z"},"encoding":{"x":{"datum":230},"y":{"datum":2432.6}}},
{"data":{"name":"events"},"mark":{"type":"point","shape":"circle","filled":true,"fill":"#000000","stroke":"#e8303e","strokeWidth":1.8,"opacity":1,"size":300},"encoding":{"x":{"field":"i"},"y":{"datum":2445.8}}},
{"data":{"name":"events"},"mark":{"type":"point","shape":"circle","filled":true,"color":"#f2f2f2","opacity":1,"size":160},"encoding":{"x":{"field":"i"},"y":{"datum":2445.8}}},
{"data":{"name":"events"},"mark":{"type":"point","filled":true,"color":"#e8404a","opacity":1,"size":180,"shape":"M-0.95 -0.1 L0.95 -0.1 L0.95 0.2 L-0.95 0.2 Z M-0.8 0.5 L0.8 0.5 L0.6 0.8 L-0.6 0.8 Z M0 -0.75 L0.8 -0.75 L0.95 -0.4 L0 -0.4 Z"},"encoding":{"x":{"field":"i"},"y":{"datum":2445.8}}},
{"data":{"name":"events"},"mark":{"type":"point","filled":true,"color":"#2b5fb3","opacity":1,"size":180,"shape":"M-0.97 0 L0 0 L0 -0.98 L-0.4 -0.9 L-0.8 -0.55 Z"},"encoding":{"x":{"field":"i"},"y":{"datum":2445.8}}},
{"data":{"name":"head_bold"},"mark":{"type":"text","align":"left","baseline":"middle","fontSize":12,"fontWeight":"bold","color":"#b2b5be"},"encoding":{"x":{"field":"i"},"y":{"field":"p"},"text":{"field":"t"}}},
{"data":{"name":"head_plain"},"mark":{"type":"text","align":"left","baseline":"middle","fontSize":12,"color":"#b2b5be"},"encoding":{"x":{"field":"i"},"y":{"field":"p"},"text":{"field":"t"}}},
{"data":{"name":"head_teal"},"mark":{"type":"text","align":"left","baseline":"middle","fontSize":12,"color":"#22ab94"},"encoding":{"x":{"field":"i"},"y":{"field":"p"},"text":{"field":"t"}}},
{"data":{"values":[{"t":"▲"}]},"mark":{"type":"text","align":"left","baseline":"middle","fontSize":15,"color":"#22ab94"},"encoding":{"x":{"datum":36.6},"y":{"datum":5073},"text":{"field":"t"}}},
{"data":{"values":[{"k":1}]},"mark":{"type":"point","filled":true,"color":"#d1d4dc","opacity":1,"size":484,"shape":"M-1 -0.5 L-0.32 -0.5 L-0.32 0.5 L-0.62 0.5 L-0.62 -0.13 L-1 -0.13 Z M0.42 -0.5 L1 -0.5 L0.55 0.5 L-0.05 0.5 Z M-0.12 -0.5 L0.12 -0.5 L0.24 -0.3 L0.12 -0.1 L-0.12 -0.1 L-0.24 -0.3 Z"},"encoding":{"x":{"datum":1.6},"y":{"datum":2224.3}}},
{"data":{"values":[{"t":"TradingView"}]},"mark":{"type":"text","align":"left","baseline":"middle","fontSize":15.5,"fontWeight":600,"color":"#d1d4dc"},"encoding":{"x":{"datum":5},"y":{"datum":2224.3},"text":{"field":"t"}}}
]
}
